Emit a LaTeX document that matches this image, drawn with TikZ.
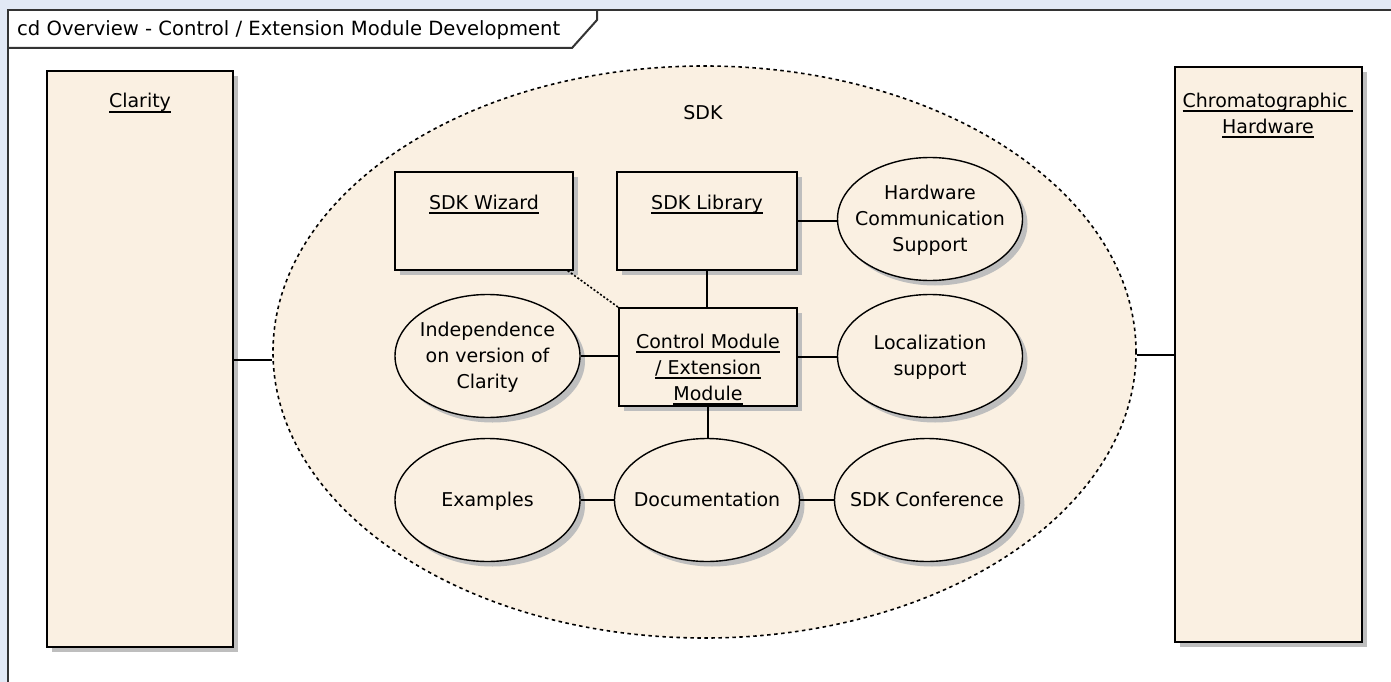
\documentclass[tikz,border=0pt]{standalone}
\usepackage{fontspec}
\setmainfont{DejaVu Sans}
\usetikzlibrary{shapes.geometric,shadows}
\definecolor{beige}{HTML}{FAF0E2}
\definecolor{bgblue}{HTML}{E2E9F5}
\definecolor{shadowgray}{HTML}{BEBEBE}
\definecolor{framegray}{HTML}{333333}
\newcommand\ulx[1]{\setbox0\hbox{#1}\rlap{\raisebox{-4.5pt}[0pt][0pt]{\rule{\wd0}{1.3pt}}}\box0}
\tikzset{
  shad/.style={drop shadow={shadow xshift=5pt,shadow yshift=-5pt,fill=shadowgray,opacity=1}},
  objbox/.style={rectangle,draw=black,line width=1.4pt,fill=beige,inner sep=0pt,shad},
  oval/.style={ellipse,draw=black,line width=1.4pt,fill=beige,inner sep=0pt,
    minimum width=185pt,minimum height=123pt,shad},
  txt/.style={align=center,inner sep=0pt,font=\fontsize{19}{26}\selectfont},
  link/.style={draw=black,line width=1.5pt},
  dotlink/.style={draw=black,line width=1.6pt,dash pattern=on 2pt off 2pt},
}
\begin{document}
\begin{tikzpicture}[x=1pt,y=-1pt]
\useasboundingbox (0,0) rectangle (1391,682);
% background and frame
\fill[bgblue] (0,0) rectangle (1391,682);
\fill[white] (8,10) rectangle (1400,700);
\draw[framegray,line width=2pt] (8,700) -- (8,10) -- (1400,10);
\draw[framegray,line width=2pt] (8,48) -- (572,48) -- (597,20) -- (597,10);
\node[txt,anchor=base west,font=\fontsize{19.6}{26}\selectfont] (title) at (17,36) {cd Overview - Control / Extension Module Development};

% SDK package ellipse
\node[ellipse,draw=black,line width=1.6pt,dash pattern=on 3.5pt off 3.5pt,fill=beige,
  minimum width=863pt,minimum height=572pt,inner sep=0pt] (sdk) at (704.5,352) {};
\node[txt,anchor=base] (sdklabel) at (703,120) {SDK};

% side boxes
\node[objbox,minimum width=186pt,minimum height=576pt] (clarity) at (140,359) {};
\node[txt,anchor=base] (claritytxt) at (140,108) {\ulx{Clarity}};
\node[objbox,minimum width=187pt,minimum height=575pt] (chrom) at (1268.5,354.5) {};
\node[txt] (chromtxt) at (1268,113) {\ulx{Chromatographic }\\\ulx{Hardware}};

% inner boxes
\node[objbox,minimum width=178pt,minimum height=98pt] (wizard) at (484,221) {};
\node[txt,anchor=base] (wizardtxt) at (484,209) {\ulx{SDK Wizard}};
\node[objbox,minimum width=180pt,minimum height=98pt] (library) at (707,221) {};
\node[txt,anchor=base] (librarytxt) at (707,209) {\ulx{SDK Library}};
\node[objbox,minimum width=178pt,minimum height=98pt] (cm) at (708,357) {};
\node[txt] (cmtxt) at (708,367) {\ulx{Control Module}\\\ulx{/ Extension}\\\ulx{Module}};

% ovals
\node[oval] (indep) at (487.5,356) {};
\node[txt] (indeptxt) at (487.5,357) {Independence\\on version of\\Clarity};
\node[oval] (hwcomm) at (930,219) {};
\node[txt] (hwcommtxt) at (930,220) {Hardware\\Communication\\Support};
\node[oval] (local) at (930,356) {};
\node[txt] (localtxt) at (930,357) {Localization\\support};
\node[oval] (examples) at (487.5,500) {};
\node[txt,anchor=base] (examplestxt) at (487.5,506) {Examples};
\node[oval] (docu) at (707,500) {};
\node[txt,anchor=base] (docutxt) at (707,506) {Documentation};
\node[oval] (conf) at (927,500) {};
\node[txt,anchor=base] (conftxt) at (927,506) {SDK Conference};

% connectors
\draw[link] (clarity.east |- 0,360) -- (sdk.west |- 0,360);
\draw[link] (chrom.west |- 0,355) -- (sdk.east |- 0,355);
\draw[dotlink] ([xshift=-6pt]wizard.south east) -- (cm.north west);
\draw[link] (library.south) -- (library.south |- cm.north);
\draw[link] (library.east) -- (library.east -| hwcomm.west);
\draw[link] (indep.east) -- (indep.east -| cm.west);
\draw[link] (cm.east) -- (cm.east -| local.west);
\draw[link] (cm.south) -- (cm.south |- docu.north);
\draw[link] (examples.east) -- (docu.west);
\draw[link] (docu.east) -- (conf.west);
\end{tikzpicture}
\end{document}
